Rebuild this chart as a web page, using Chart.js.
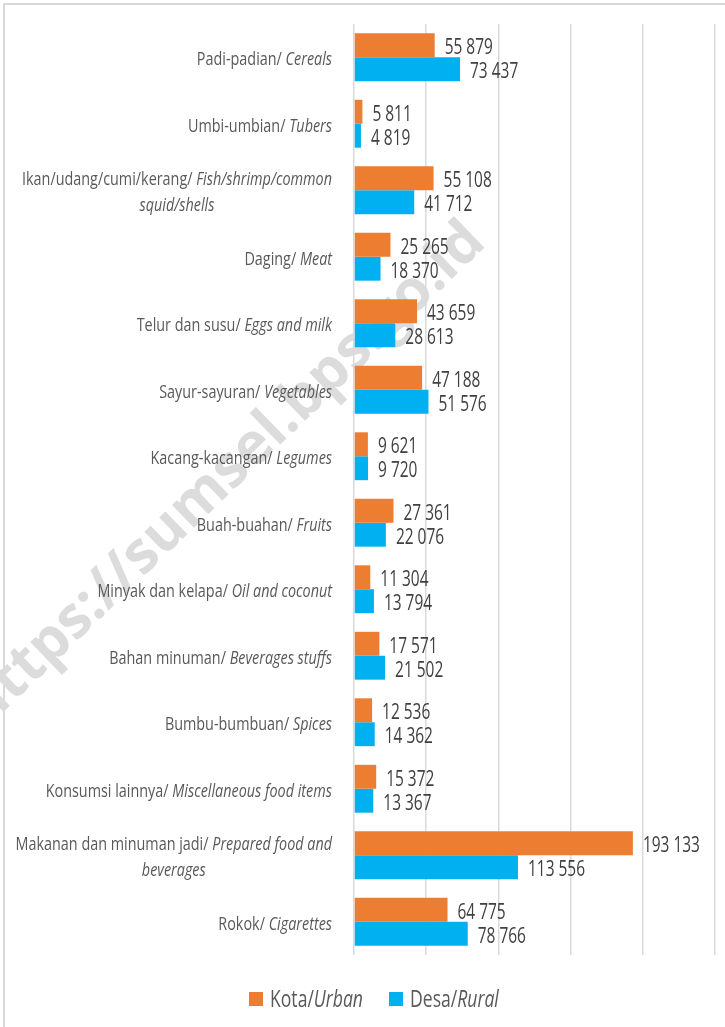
<!DOCTYPE html>
<html>
<head>
<meta charset="utf-8">
<script src="https://cdn.jsdelivr.net/npm/chart.js@4/dist/chart.umd.min.js"></script>
<style>
  body { margin: 0; background: #fff; }
  canvas { display: block; }
</style>
</head>
<body>
<canvas id="chart" width="725" height="1027"></canvas>
<script>
const FONT = '"Open Sans", "Noto Sans", sans-serif';

// Indonesian names (upright) and English names (italic, "\n" = line break)
const namesId = [
	"Padi-padian", "Umbi-umbian", "Ikan/udang/cumi/kerang", "Daging", "Telur dan susu",
	"Sayur-sayuran", "Kacang-kacangan", "Buah-buahan", "Minyak dan kelapa", "Bahan minuman",
	"Bumbu-bumbuan", "Konsumsi lainnya", "Makanan dan minuman jadi", "Rokok"
];
const namesEn = [
	"Cereals", "Tubers", "Fish/shrimp/common\nsquid/shells", "Meat", "Eggs and milk",
	"Vegetables", "Legumes", "Fruits", "Oil and coconut", "Beverages stuffs",
	"Spices", "Miscellaneous food items", "Prepared food and\nbeverages", "Cigarettes"
];
const urban = [55879, 5811, 55108, 25265, 43659, 47188, 9621, 27361, 11304, 17571, 12536, 15372, 193133, 64775];
const rural = [73437, 4819, 41712, 18370, 28613, 51576, 9720, 22076, 13794, 21502, 14362, 13367, 113556, 78766];
const xTicks = [0, 50000, 100000, 150000, 200000, 250000];

const legendItems = [
	{ color: "#ed7d31", id: "Kota/", en: "Urban" },
	{ color: "#00b0f0", id: "Desa/", en: "Rural" }
];

function fmt(v) {
	return String(v).replace(/\B(?=(\d{3})+(?!\d))/g, " ");
}

// the source uses a condensed face; squeeze a normal one horizontally
function textW(ctx, s, font) {
	ctx.font = font;
	return ctx.measureText(s).width;
}
function drawText(ctx, s, x, y, font, sx) {
	ctx.save();
	ctx.font = font;
	ctx.translate(x, y);
	ctx.scale(sx, 1);
	ctx.fillText(s, 0, 0);
	ctx.restore();
}

const decor = {
	id: "decor",
	beforeDraw(chart) {
		const ctx = chart.ctx;
		ctx.save();
		ctx.strokeStyle = "#d9d9d9";
		ctx.lineWidth = 2;
		ctx.beginPath();
		ctx.moveTo(4, 1027);
		ctx.lineTo(4, 4);
		ctx.lineTo(725, 4);
		ctx.stroke();

		// watermark
		ctx.translate(225, 475);
		ctx.rotate(-44 * Math.PI / 180);
		ctx.font = "bold 58px " + FONT;
		ctx.fillStyle = "#dcdcdc";
		ctx.textAlign = "center";
		ctx.textBaseline = "middle";
		ctx.fillText("https://sumsel.bps.go.id", 0, 0);
		ctx.restore();
	},
	afterDraw(chart) {
		const ctx = chart.ctx;
		const y = chart.scales.y;
		ctx.save();
		ctx.textBaseline = "middle";
		ctx.textAlign = "left";

		// category labels
		const up = "18px " + FONT;
		const it = "italic 18px " + FONT;
		const sxL = 310 / (textW(ctx, "Ikan/udang/cumi/kerang/ ", up) + textW(ctx, "Fish/shrimp/common", it));
		const right = 332;
		ctx.fillStyle = "#595959";
		namesId.forEach((name, i) => {
			const enLines = namesEn[i].split("\n");
			const lines = [[[name + "/ ", up], [enLines[0], it]]];
			for (let k = 1; k < enLines.length; k++) lines.push([[enLines[k], it]]);
			const widths = lines.map((segs) => segs.reduce((w, s) => w + textW(ctx, s[0], s[1]) * sxL, 0));
			const blockW = Math.max(...widths);
			const cx = right - blockW / 2;
			const lh = 26;
			const cy = y.getPixelForValue(i) + 3 - (lines.length - 1) * lh / 2;
			lines.forEach((segs, k) => {
				let x = cx - widths[k] / 2;
				segs.forEach((s) => {
					drawText(ctx, s[0], x, cy + k * lh, s[1], sxL);
					x += textW(ctx, s[0], s[1]) * sxL;
				});
			});
		});

		// value labels
		const vf = "21px " + FONT;
		const sxV = 57 / textW(ctx, "193 133", vf);
		ctx.fillStyle = "#404040";
		chart.data.datasets.forEach((ds, di) => {
			chart.getDatasetMeta(di).data.forEach((bar, i) => {
				drawText(ctx, fmt(ds.data[i]), bar.x + 10, bar.y + 3, vf, sxV);
			});
		});

		// legend
		const lf = "23px " + FONT;
		const lfi = "italic 23px " + FONT;
		const sxG = 93 / (textW(ctx, "Kota/", lf) + textW(ctx, "Urban", lfi));
		let x = 249;
		const ly = 1000;
		legendItems.forEach((item) => {
			ctx.fillStyle = item.color;
			ctx.fillRect(x, ly - 8, 14, 14);
			x += 21;
			ctx.fillStyle = "#595959";
			drawText(ctx, item.id, x, ly, lf, sxG);
			x += textW(ctx, item.id, lf) * sxG;
			drawText(ctx, item.en, x, ly, lfi, sxG);
			x += textW(ctx, item.en, lfi) * sxG + 26;
		});
		ctx.restore();
	}
};

new Chart(document.getElementById("chart"), {
	type: "bar",
	data: {
		labels: namesId,
		datasets: [
			{ label: "Kota/Urban", data: urban, backgroundColor: "#ed7d31" },
			{ label: "Desa/Rural", data: rural, backgroundColor: "#00b0f0" }
		]
	},
	options: {
		indexAxis: "y",
		responsive: false,
		animation: false,
		layout: { padding: { left: 346, top: 24, right: 10, bottom: 72 } },
		datasets: { bar: { categoryPercentage: 0.72, barPercentage: 1 } },
		plugins: { legend: { display: false }, tooltip: { enabled: false } },
		scales: {
			x: {
				min: xTicks[0],
				max: xTicks[xTicks.length - 1],
				afterBuildTicks: (axis) => { axis.ticks = xTicks.map((v) => ({ value: v })); },
				ticks: { display: false },
				grid: { color: "#d9d9d9", lineWidth: 1.5, drawTicks: false },
				border: { display: false }
			},
			y: {
				ticks: { display: false },
				grid: { display: false },
				border: { display: false }
			}
		}
	},
	plugins: [decor]
});
</script>
</body>
</html>
